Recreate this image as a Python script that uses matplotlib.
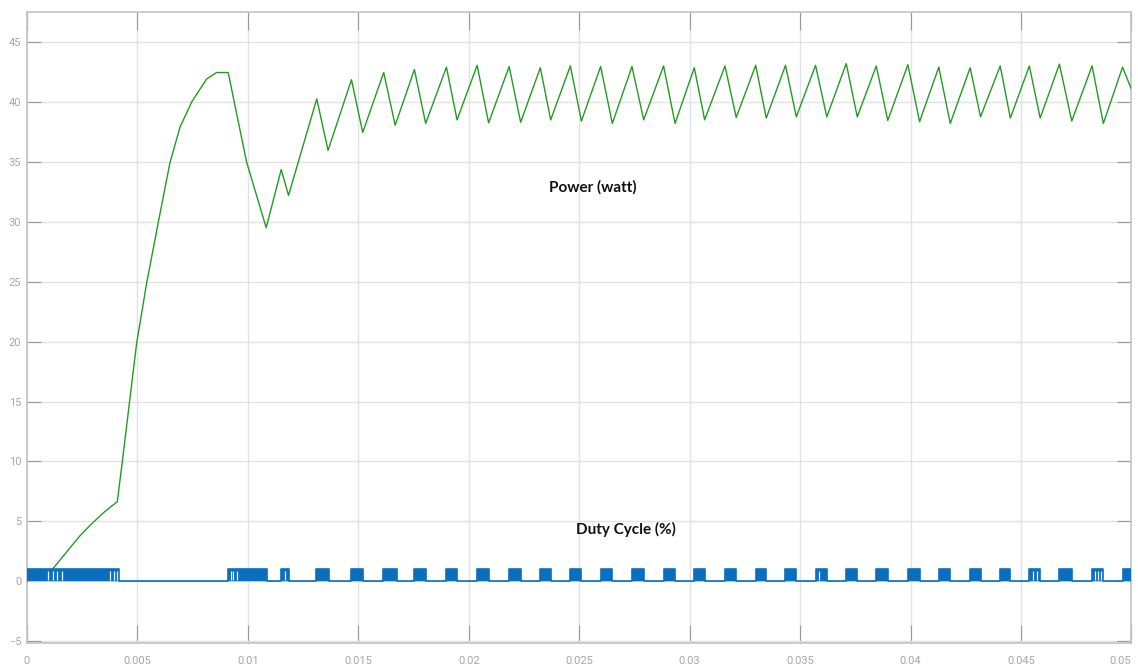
import numpy as np
import matplotlib.pyplot as plt

# Power (watt): time (s) and value
power_t = [0, 0.00115, 0.00164, 0.0024, 0.00293, 0.00345, 0.00409, 0.00433, 0.00496,
           0.00542, 0.00594, 0.00647, 0.00693, 0.00746, 0.00813, 0.00858, 0.00911, 0.00994,
           0.01083, 0.01151, 0.01184, 0.01312, 0.01363, 0.01469, 0.0152, 0.01615,
           0.01667, 0.01754, 0.01805, 0.01899, 0.01947, 0.02038, 0.0209, 0.02183,
           0.02235, 0.02324, 0.02371, 0.0246, 0.0251, 0.02597, 0.0265, 0.02739,
           0.02792, 0.02882, 0.02934, 0.03021, 0.03068, 0.0316, 0.03211, 0.03299,
           0.03347, 0.03434, 0.03483, 0.0357, 0.03621, 0.03709, 0.03759, 0.03845,
           0.03897, 0.03988, 0.04041, 0.04128, 0.0418, 0.0427, 0.04317, 0.04406,
           0.04452, 0.04538, 0.04587, 0.04674, 0.0473, 0.04822, 0.04873, 0.0496, 0.05]
power_w = [0, 1.0, 2.1, 3.8, 4.8, 5.7, 6.65, 10.2, 19.8,
           24.9, 29.9, 34.9, 37.9, 40.0, 41.9, 42.45, 42.45, 35.0,
           29.5, 34.35, 32.2, 40.25, 35.95, 41.85, 37.45, 42.45,
           38.05, 42.7, 38.2, 42.9, 38.5, 43.05, 38.25, 42.95,
           38.3, 42.85, 38.5, 43.0, 38.4, 42.95, 38.2, 42.95,
           38.5, 43.0, 38.2, 42.85, 38.5, 43.0, 38.7, 43.05,
           38.65, 43.05, 38.75, 43.05, 38.75, 43.2, 38.75, 43.0,
           38.45, 43.1, 38.35, 42.9, 38.2, 42.85, 38.75, 43.0,
           38.65, 43.0, 38.65, 43.15, 38.4, 43.0, 38.2, 42.9, 41.05]

# Duty cycle switching bursts (signal high between on and off)
duty_on = [0, 0.00911, 0.01149, 0.01308, 0.01469, 0.01612, 0.01754, 0.01899, 0.02038,
           0.02183, 0.02324, 0.0246, 0.02597, 0.02739, 0.02882, 0.03021, 0.0316,
           0.03299, 0.03434, 0.0357, 0.03709, 0.03845, 0.03988, 0.04128, 0.0427,
           0.04406, 0.04538, 0.04674, 0.04822, 0.0496]
duty_off = [0.00416, 0.01088, 0.01186, 0.01367, 0.01522, 0.01673, 0.01805, 0.01947, 0.0209,
            0.02235, 0.02371, 0.0251, 0.0265, 0.02792, 0.02934, 0.03068, 0.03211,
            0.03347, 0.03483, 0.03621, 0.03759, 0.03897, 0.04041, 0.0418, 0.04317,
            0.04452, 0.04587, 0.0473, 0.04873, 0.05]
duty_high = 1.0
# visible low slivers inside the bursts
duty_gaps = [0.000965, 0.00119, 0.00137, 0.00157, 0.00376, 0.00395, 0.00406,
             0.00924, 0.00934, 0.00952, 0.01168, 0.03584, 0.04553, 0.04573,
             0.04837, 0.04849, 0.04863]

x_ticks = np.arange(0, 0.0501, 0.005)
x_labels = ['0', '0.005', '0.01', '0.015', '0.02', '0.025', '0.03', '0.035', '0.04', '0.045', '0.05']
y_ticks = np.arange(-5, 46, 5)

# build duty step trace
duty_t, duty_v = [], []
for a, b in zip(duty_on, duty_off):
    duty_t += [a, a, b, b]
    duty_v += [0, duty_high, duty_high, 0]

fig = plt.figure(figsize=(11.38, 6.66), dpi=100)
ax = fig.add_axes([0.0237, 0.0345, 0.9705, 0.9475])

ax.plot(power_t, power_w, color='#239b23', lw=1.0, zorder=3)
ax.axhline(0, color='#e8e000', lw=0.8, zorder=3)
ax.fill_between(duty_t, duty_v, 0, color='#0a6fbf', lw=0, zorder=4)
ax.plot(duty_t, duty_v, color='#0a6fbf', lw=1.2, zorder=4)
ax.vlines(duty_gaps, 0.08, 0.9, color='#eef3fa', lw=0.9, zorder=5)

ax.set_xlim(0, 0.05)
ax.set_ylim(-5.15, 47.5)
ax.set_xticks(x_ticks)
ax.set_xticklabels(x_labels)
ax.set_yticks(y_ticks)
ax.grid(True, color='#e2e2e2', lw=1.0)
ax.set_axisbelow(True)

for s in ax.spines.values():
    s.set_color('#c4c4c4')
    s.set_linewidth(1.2)
ax.tick_params(axis='both', direction='in', top=True, right=True, color='#9a9a9a',
               labelcolor='#a6a6a6', labelsize=8, width=0.8)
ax.tick_params(axis='x', length=13, pad=9)
ax.tick_params(axis='y', length=10, pad=4)
for lab in ax.get_xticklabels() + ax.get_yticklabels():
    lab.set_family('Roboto')
# last x label sits at the right edge, keep it inside the figure
ax.get_xticklabels()[-1].set_ha('right')

ax.text(0.0256, 32.9, 'Power (watt)', fontsize=11, fontweight='bold', family='Lato',
        ha='center', va='center', color='#111111', zorder=6)
ax.text(0.0271, 4.3, 'Duty Cycle (%)', fontsize=11, fontweight='bold', family='Lato',
        ha='center', va='center', color='#111111', zorder=6)

fig.savefig('out.png', dpi=100)
